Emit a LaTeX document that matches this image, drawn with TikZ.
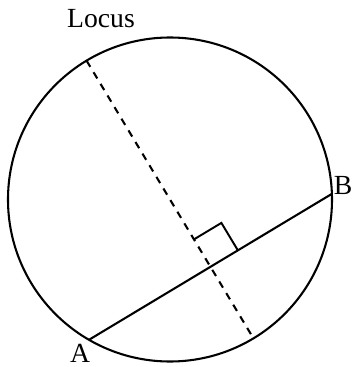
\documentclass[tikz,border=0pt]{standalone}
\usepackage{fontspec}
\setmainfont{Liberation Serif}
\usepackage{tikz}
\usetikzlibrary{calc, positioning}
\tikzset{
	figline/.style={
			draw=black,
			line width=0.75pt
		},
	locusline/.style={
			figline,
			dash pattern=on 2.6pt off 2.3pt
		},
	pointlabel/.style={
			font=\normalsize,
			inner sep=0pt
		}
}

\begin{document}
\begin{tikzpicture}[x=1.27cm, y=1.27cm]

				\useasboundingbox (-1.70,-1.675) rectangle (1.82,1.995);

				\coordinate (O) at (0,0);
				\coordinate (A) at (240:1.62);
				\coordinate (B) at (2:1.62);
				\coordinate (top) at (121:1.62);
				\coordinate (bot) at (301:1.62);
				\coordinate (M) at ($(A)!0.5!(B)$);

				\draw[figline] (O) circle (1.62);
				\draw[figline] (A) -- (B);
				\draw[locusline] (top) -- (bot);

				\begin{scope}[shift={(M)}, rotate=31]
					\draw[figline, line width=0.7pt] (0.32,0) -- (0.32,0.32) -- (0,0.32);
				\end{scope}

				\node[pointlabel] (locus) at (-0.69,1.805) {Locus};
				\node[pointlabel] (labA) at (-0.90,-1.535) {A};
				\node[pointlabel] (labB) at (1.73,0.145) {B};

			\end{tikzpicture}
\end{document}
